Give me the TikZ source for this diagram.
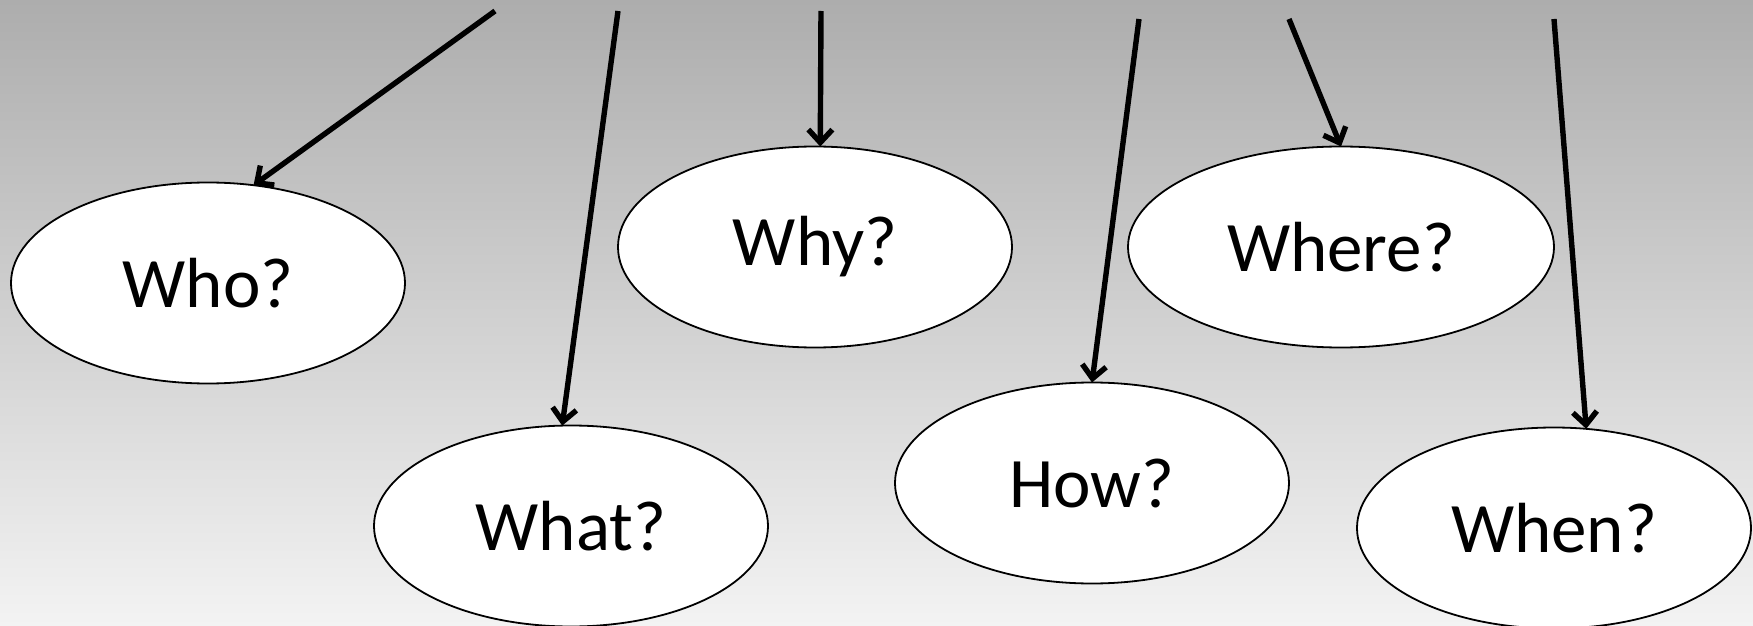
\documentclass[tikz,border=0pt]{standalone}
\usepackage{fontspec}
\setmainfont{Carlito}
\usetikzlibrary{shapes.geometric,arrows.meta}
\definecolor{bgtop}{RGB}{173,173,173}
\definecolor{bgbot}{RGB}{243,243,243}
\begin{document}
\begin{tikzpicture}[x=0.5pt,y=-0.5pt,
  q/.style={ellipse,draw=black,line width=0.9pt,fill=white,minimum width=197pt,minimum height=100.5pt,inner sep=0pt,outer sep=0pt,font=\fontsize{35.5}{40}\selectfont},
  arr/.style={line width=2.7pt,-{Straight Barb[length=6.5pt,width=12pt]}}]
\shade[top color=bgtop,bottom color=bgbot] (0,0) rectangle (1753,626);
\useasboundingbox (0,0) rectangle (1753,626);
\node[q] (who) at (208,283) {Who?};
\node[q] (why) at (815,247) {Why?};
\node[q,minimum width=213pt] (where) at (1341,247) {Where?};
\node[q] (what) at (571,526) {What?};
\node[q] (how) at (1092,483) {How?};
\node[q] (when) at (1554,528) {When?};
\coordinate (s1) at (495,11);
\coordinate (s2) at (618,11);
\coordinate (s3) at (821,11);
\coordinate (s4) at (1139,19);
\coordinate (s5) at (1289,19);
\coordinate (s6) at (1554,19);
\draw[arr] (s1) -- (who.65.5);
\draw[arr] (s2) -- (what.95);
\draw[arr] (s3) -- (why.87);
\draw[arr] (s4) -- (how.north);
\draw[arr] (s5) -- (where.north);
\draw[arr] (s6) -- (when.72);
\end{tikzpicture}
\end{document}
